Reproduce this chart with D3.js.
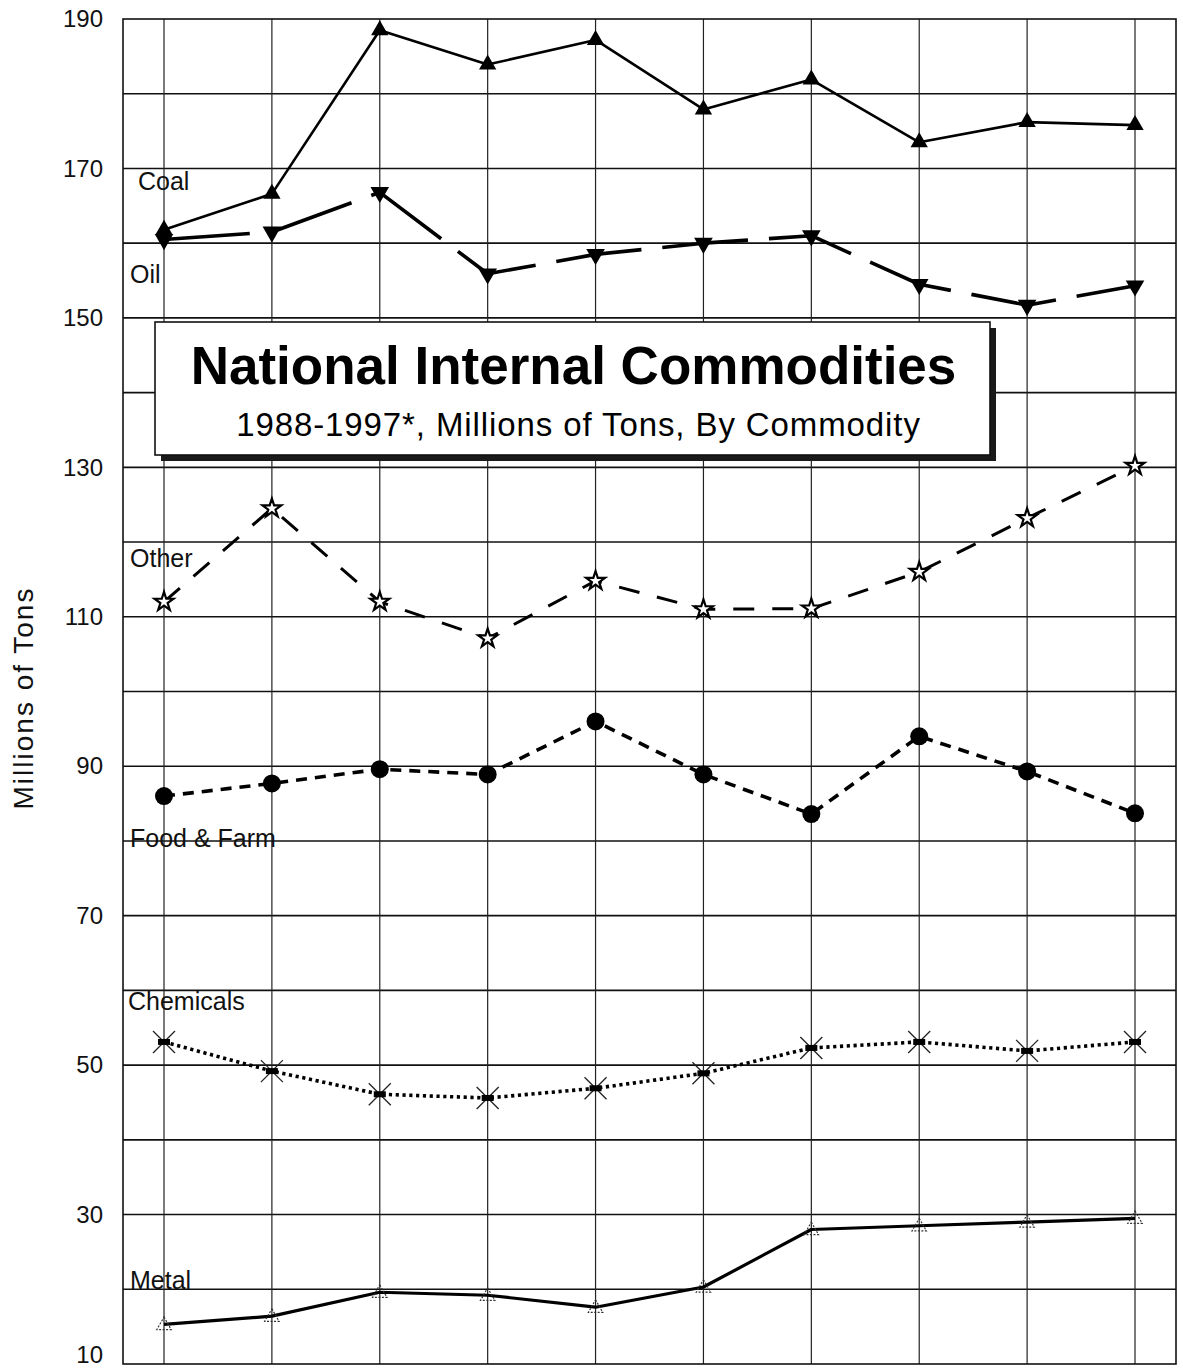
<!DOCTYPE html>
<html>
<head>
<meta charset="utf-8">
<script src="https://cdn.jsdelivr.net/npm/d3@7"></script>
<style>
  html, body { margin: 0; padding: 0; background: #fff; }
  svg { display: block; font-family: "Liberation Sans", Arial, Helvetica, sans-serif; }
</style>
</head>
<body>
<svg id="chart" width="1183" height="1370"></svg>
<script>
// ---- data ----
const years = [1988, 1989, 1990, 1991, 1992, 1993, 1994, 1995, 1996, 1997];
const coal      = [161.8, 166.6, 188.5, 183.9, 187.2, 177.9, 181.9, 173.5, 176.2, 175.8];
const oil       = [160.5, 161.5, 166.8, 155.9, 158.5, 160.0, 161.0, 154.5, 151.7, 154.3];
const other     = [112.0, 124.5, 112.0, 107.1, 114.8, 111.0, 111.1, 116.0, 123.2, 130.2];
const foodFarm  = [86.0, 87.7, 89.6, 88.9, 96.0, 88.9, 83.6, 94.0, 89.3, 83.7];
const chemicals = [53.1, 49.2, 46.1, 45.6, 46.9, 48.9, 52.3, 53.1, 51.9, 53.1];
const metal     = [15.3, 16.4, 19.6, 19.2, 17.6, 20.3, 28.0, 28.5, 29.0, 29.5];
const seriesNames = ["Coal", "Oil", "Other", "Food & Farm", "Chemicals", "Metal"];
const yTickLabels = [10, 30, 50, 70, 90, 110, 130, 150, 170, 190];
const titleText = "National Internal Commodities";
const subtitleText = "1988-1997*, Millions of Tons, By Commodity";
const yAxisTitle = "Millions of Tons";

// ---- layout / style ----
const svg = d3.select("#chart");
const L = 123, R = 1176, T = 19, B = 1364;
const x = d3.scalePoint().domain(years).range([L, R]).padding(0.38);
const y = d3.scaleLinear().domain([10, 190]).range([B, T]);

const font = '"Liberation Sans", Arial, Helvetica, sans-serif';

// gridlines
const grid = svg.append("g");
grid.selectAll("line.h").data(d3.range(20, 190, 10)).join("line")
  .attr("x1", L).attr("x2", R)
  .attr("y1", d => y(d)).attr("y2", d => y(d))
  .attr("stroke", "#111").attr("stroke-width", 1.6);
grid.selectAll("line.v").data(years).join("line")
  .attr("x1", d => x(d)).attr("x2", d => x(d))
  .attr("y1", T).attr("y2", B)
  .attr("stroke", "#222").attr("stroke-width", 1.2);
grid.append("rect").attr("x", L).attr("y", T).attr("width", R - L).attr("height", B - T)
  .attr("fill", "none").attr("stroke", "#111").attr("stroke-width", 1.6);

// y axis labels
const yAxis = d3.axisLeft(y).tickValues(yTickLabels).tickSize(0).tickPadding(20).tickFormat(d3.format("d"));
const ya = svg.append("g").attr("transform", `translate(${L},0)`).call(yAxis);
ya.select(".domain").remove();
ya.selectAll("text").attr("font-size", 24).attr("font-family", font).attr("fill", "#111");
// keep the bottom label inside the picture
ya.selectAll(".tick").filter(d => d === 10).select("text").attr("dy", "-0.05em");

// y axis title
svg.append("text")
  .attr("transform", `translate(33,${698}) rotate(-90)`)
  .attr("text-anchor", "middle")
  .attr("font-size", 28).attr("letter-spacing", 2.0)
  .attr("font-family", font).attr("fill", "#111")
  .text(yAxisTitle);

// series definitions
const series = [
  { name: seriesNames[0], values: coal,      width: 2.6, dash: null,     label: 167.1, lx: 138 },
  { name: seriesNames[1], values: oil,       width: 3.6, dash: "86,21",  label: 154.7, lx: 130 },
  { name: seriesNames[2], values: other,     width: 3.0, dash: "21,18",  label: 116.7, lx: 130 },
  { name: seriesNames[3], values: foodFarm,  width: 3.6, dash: "11,8",   label: 79.2,  lx: 130 },
  { name: seriesNames[4], values: chemicals, width: 3.6, dash: "3.2,3.6",label: 57.4,  lx: 128 },
  { name: seriesNames[5], values: metal,     width: 3.2, dash: null,     label: 20.0,  lx: 130 }
];

// title box (drawn over grid)
const bx = 155, by = 322, bw = 835, bh = 133;
svg.append("rect").attr("x", bx + 6).attr("y", by + 6).attr("width", bw).attr("height", bh).attr("fill", "#1a1a1a");
svg.append("rect").attr("x", bx).attr("y", by).attr("width", bw).attr("height", bh)
  .attr("fill", "#fff").attr("stroke", "#111").attr("stroke-width", 1.6);
svg.append("text").attr("x", bx + bw / 2 + 1).attr("y", 384)
  .attr("text-anchor", "middle").attr("font-size", 53).attr("font-weight", "bold")
  .attr("font-family", font).attr("fill", "#000").text(titleText);
svg.append("text").attr("x", bx + bw / 2 + 6).attr("y", 436)
  .attr("text-anchor", "middle").attr("font-size", 33).attr("letter-spacing", 0.9)
  .attr("font-family", font).attr("fill", "#000").text(subtitleText);

// series labels
svg.append("g").selectAll("text").data(series).join("text")
  .attr("x", d => d.lx).attr("y", d => y(d.label))
  .attr("font-size", 25).attr("font-family", font).attr("fill", "#111")
  .text(d => d.name);

// lines
const line = d3.line().x((d, i) => x(years[i])).y(d => y(d));
const lines = svg.append("g");
series.forEach(s => {
  lines.append("path").datum(s.values)
    .attr("d", line)
    .attr("fill", "none").attr("stroke", "#000")
    .attr("stroke-width", s.width)
    .attr("stroke-linejoin", "round")
    .attr("stroke-dasharray", s.dash);
});

// markers
const mk = svg.append("g");
const pts = vals => vals.map((v, i) => [x(years[i]), y(v)]);

// Coal: filled triangle up
mk.selectAll("path.coal").data(pts(coal)).join("path")
  .attr("transform", d => `translate(${d[0]},${d[1]})`)
  .attr("d", d3.symbol(d3.symbolTriangle, 130))
  .attr("fill", "#000");

// Oil: filled triangle down
mk.selectAll("path.oil").data(pts(oil)).join("path")
  .attr("transform", d => `translate(${d[0]},${d[1]}) rotate(180)`)
  .attr("d", d3.symbol(d3.symbolTriangle, 150))
  .attr("fill", "#000");

// Other: open star
mk.selectAll("path.other").data(pts(other)).join("path")
  .attr("transform", d => `translate(${d[0]},${d[1]})`)
  .attr("d", d3.symbol(d3.symbolStar, 110))
  .attr("fill", "#fff").attr("stroke", "#000").attr("stroke-width", 2.2);

// Food & Farm: filled circle
mk.selectAll("circle.food").data(pts(foodFarm)).join("circle")
  .attr("cx", d => d[0]).attr("cy", d => d[1]).attr("r", 9)
  .attr("fill", "#000");

// Chemicals: thin X with a small centre dash
const xMark = "M-11,-11L11,11M-11,11L11,-11";
mk.selectAll("path.chem").data(pts(chemicals)).join("path")
  .attr("transform", d => `translate(${d[0]},${d[1]})`)
  .attr("d", xMark)
  .attr("fill", "none").attr("stroke", "#222").attr("stroke-width", 1.3);
mk.selectAll("rect.chem").data(pts(chemicals)).join("rect")
  .attr("x", d => d[0] - 6).attr("y", d => d[1] - 3).attr("width", 12).attr("height", 6)
  .attr("fill", "#000");

// Metal: open dotted triangle
mk.selectAll("path.metal").data(pts(metal)).join("path")
  .attr("transform", d => `translate(${d[0]},${d[1] + 1})`)
  .attr("d", d3.symbol(d3.symbolTriangle, 90))
  .attr("fill", "none").attr("stroke", "#333").attr("stroke-width", 1.2)
  .attr("stroke-dasharray", "2,1.5");
</script>
</body>
</html>
